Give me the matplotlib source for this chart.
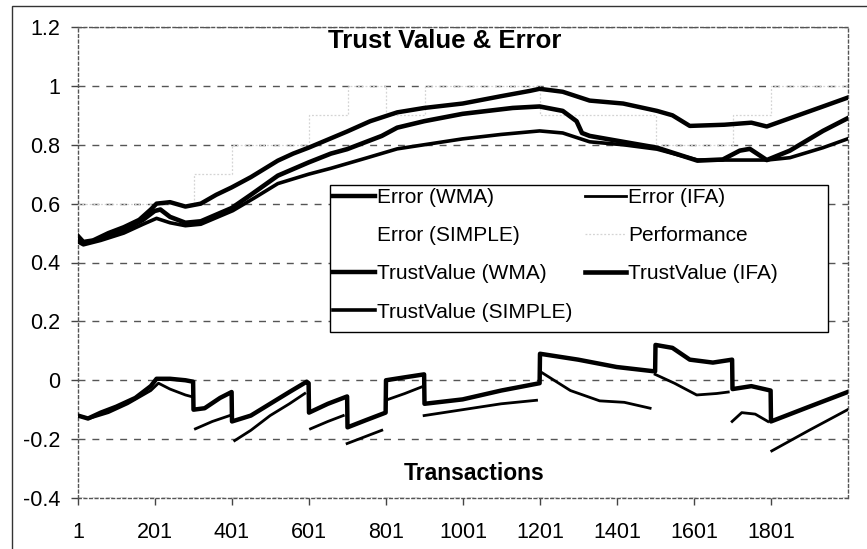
import numpy as np
import matplotlib.pyplot as plt
from matplotlib.patches import Rectangle

plt.rcParams['font.family'] = ['Liberation Sans', 'DejaVu Sans']

# trust value curves, (transaction, value)
tv_wma = [(1, 0.49), (15, 0.47), (40, 0.475), (80, 0.50), (120, 0.52), (160, 0.545),
          (190, 0.58), (205, 0.60), (240, 0.605), (280, 0.59), (320, 0.60), (360, 0.63),
          (400, 0.655), (450, 0.69), (500, 0.73), (520, 0.746), (560, 0.77), (600, 0.79),
          (660, 0.823), (700, 0.845), (760, 0.88), (830, 0.91), (900, 0.925), (1000, 0.94),
          (1100, 0.965), (1175, 0.983), (1200, 0.99), (1260, 0.98), (1330, 0.95),
          (1417, 0.94), (1505, 0.915), (1545, 0.90), (1590, 0.864), (1680, 0.868),
          (1750, 0.875), (1790, 0.862), (1850, 0.89), (1936, 0.93), (2000, 0.96)]
tv_ifa = [(1, 0.48), (15, 0.465), (60, 0.48), (120, 0.51), (170, 0.545), (200, 0.575),
          (215, 0.58), (240, 0.555), (280, 0.535), (320, 0.54), (400, 0.585), (450, 0.63),
          (520, 0.695), (600, 0.74), (658, 0.77), (700, 0.785), (790, 0.83), (830, 0.858),
          (900, 0.88), (1000, 0.905), (1130, 0.925), (1200, 0.93), (1260, 0.915),
          (1296, 0.88), (1310, 0.84), (1330, 0.83), (1417, 0.81), (1505, 0.79),
          (1610, 0.746), (1676, 0.75), (1720, 0.78), (1746, 0.786), (1790, 0.748),
          (1850, 0.78), (1936, 0.847), (2000, 0.89)]
tv_simple = [(1, 0.47), (15, 0.46), (60, 0.475), (120, 0.50), (170, 0.53), (205, 0.55),
             (240, 0.535), (280, 0.525), (320, 0.53), (403, 0.576), (460, 0.62), (520, 0.668),
             (600, 0.70), (658, 0.72), (750, 0.755), (830, 0.786), (900, 0.80), (1000, 0.82),
             (1100, 0.835), (1200, 0.847), (1260, 0.84), (1330, 0.81), (1417, 0.80),
             (1505, 0.785), (1610, 0.748), (1790, 0.748), (1850, 0.756), (1936, 0.79),
             (2000, 0.82)]

# error curves
err_wma = [(1, -0.12), (27, -0.13), (60, -0.11), (100, -0.09), (150, -0.06), (190, -0.02),
           (205, 0.005), (240, 0.005), (280, 0.0), (300, -0.005), (301, -0.10), (330, -0.095),
           (370, -0.06), (400, -0.04), (401, -0.14), (450, -0.12), (500, -0.08), (550, -0.04),
           (595, -0.005), (600, -0.01), (601, -0.11), (650, -0.08), (700, -0.055),
           (701, -0.16), (750, -0.135), (800, -0.11), (801, 0.0), (850, 0.01), (900, 0.02),
           (901, -0.08), (1000, -0.065), (1100, -0.035), (1200, -0.01), (1201, 0.09),
           (1300, 0.07), (1400, 0.045), (1500, 0.03), (1501, 0.12), (1545, 0.11),
           (1590, 0.07), (1650, 0.06), (1700, 0.07), (1701, -0.03), (1750, -0.02),
           (1800, -0.035), (1801, -0.14), (1900, -0.09), (2000, -0.04)]
err_ifa = [
    [(1, -0.12), (30, -0.13), (80, -0.11), (130, -0.08), (190, -0.035), (210, -0.01),
     (240, -0.03), (280, -0.05), (300, -0.057)],
    [(306, -0.165), (350, -0.14), (395, -0.12)],
    [(408, -0.205), (450, -0.17), (500, -0.12), (550, -0.08), (590, -0.045)],
    [(605, -0.165), (650, -0.14), (690, -0.12)],
    [(700, -0.215), (750, -0.19), (790, -0.17)],
    [(800, -0.068), (850, -0.045), (893, -0.023)],
    [(900, -0.12), (1000, -0.10), (1100, -0.08), (1192, -0.068)],
    [(1201, 0.03), (1280, -0.035), (1356, -0.07), (1420, -0.075), (1487, -0.095)],
    [(1500, 0.02), (1550, -0.01), (1608, -0.05), (1660, -0.045), (1690, -0.04)],
    [(1700, -0.14), (1725, -0.11), (1760, -0.115), (1793, -0.14)],
    [(1803, -0.24), (1900, -0.17), (2000, -0.10)],
]

# performance level, changes at these transactions
perf_start = [1, 301, 401, 601, 701, 801, 901, 1201, 1501, 1701, 1801]
perf_level = [0.6, 0.7, 0.8, 0.9, 1.0, 0.9, 1.0, 0.9, 0.8, 0.9, 1.0]

xticks = [1, 201, 401, 601, 801, 1001, 1201, 1401, 1601, 1801]
yticks = [-0.4, -0.2, 0, 0.2, 0.4, 0.6, 0.8, 1.0, 1.2]
ytick_labels = ['-0.4', '-0.2', '0', '0.2', '0.4', '0.6', '0.8', '1', '1.2']


def xy(points):
    a = np.array(points, dtype=float)
    return a[:, 0], a[:, 1]


def joined(segments):
    xs, ys = [], []
    for seg in segments:
        x, y = xy(seg)
        xs += list(x) + [np.nan]
        ys += list(y) + [np.nan]
    return xs, ys


fig = plt.figure(figsize=(8.67, 5.49), dpi=100)
W, H = 867, 549
ax = fig.add_axes([78 / W, 1 - 498 / H, 770 / W, 471 / H])

# outer chart frame
fig.patches.append(Rectangle((12 / W, -0.05), 1.2, 1 - 6 / H + 0.05,
                             transform=fig.transFigure, fill=False,
                             edgecolor='#333333', lw=1.0))

h_ew, = ax.plot(*xy(err_wma), color='black', lw=3.2, label='Error (WMA)', zorder=5)
h_ei, = ax.plot(*joined(err_ifa), color='black', lw=2.0, label='Error (IFA)', zorder=5)
h_es, = ax.plot([], [], color='white', lw=2.0, label='Error (SIMPLE)')
px = perf_start + [2000]
py = perf_level + [perf_level[-1]]
h_p, = ax.plot(px, py, drawstyle='steps-post', color='#d4d4d4', lw=0.9,
               linestyle=(0, (1.5, 1.5)), label='Performance', zorder=3)
h_tw, = ax.plot(*xy(tv_wma), color='black', lw=3.2, label='TrustValue (WMA)', zorder=4)
h_ti, = ax.plot(*xy(tv_ifa), color='black', lw=3.3, label='TrustValue (IFA)', zorder=4)
h_ts, = ax.plot(*xy(tv_simple), color='black', lw=2.6, label='TrustValue (SIMPLE)', zorder=4)

ax.set_xlim(1, 2001)
ax.set_ylim(-0.4, 1.2)
ax.set_xticks(xticks)
ax.set_yticks(yticks)
ax.set_yticklabels(ytick_labels)
ax.tick_params(axis='both', labelsize=15.5, direction='out', length=5,
               color='#444444', width=1)
ax.tick_params(axis='y', pad=8)
ax.tick_params(axis='x', pad=12)
ax.yaxis.grid(True, color='#555555', lw=1.0, linestyle=(0, (5, 5)))
ax.set_axisbelow(True)
for side in ax.spines:
    ax.spines[side].set_color('#555555')
    ax.spines[side].set_linewidth(1.0)
    ax.spines[side].set_linestyle((0, (2, 2)))

# legend with a square frame
ax.add_patch(Rectangle((0.327, 0.352), 0.647, 0.313, transform=ax.transAxes,
                       facecolor='white', edgecolor='black', lw=1.0, zorder=6))
leg = ax.legend(handles=[h_ew, h_es, h_tw, h_ts, h_ei, h_p, h_ti], ncol=2,
                loc='upper left', bbox_to_anchor=((333 - 78) / 770, (498 - 188) / 471),
                frameon=False, fontsize=15, handlelength=2.0, handletextpad=0.1,
                columnspacing=0.6, labelspacing=0.92, borderpad=0, borderaxespad=0)
leg.set_zorder(7)

fig.text(445 / W, 1 - 41 / H, 'Trust Value & Error', ha='center', va='center',
         fontsize=18.5, fontweight='bold')
fig.text(474 / W, 1 - 474 / H, 'Transactions', ha='center', va='center',
         fontsize=16.5, fontweight='bold')

fig.savefig('out.png', dpi=100)
